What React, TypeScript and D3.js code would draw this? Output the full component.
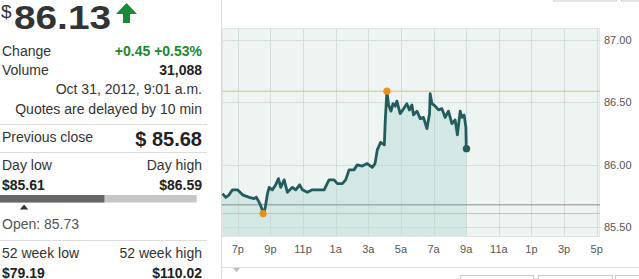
import React from "react";
import * as d3 from "d3";

// ---- data ----
// hours since Oct 30, 2012 00:00 (local), price in $
const hours = [18.06, 18.26, 18.47, 18.67, 18.98, 19.29, 19.7, 20.0, 20.14, 20.31, 20.47, 20.55, 20.67, 20.82, 20.92, 21.12, 21.32, 21.49, 21.63, 21.84, 22.04, 22.35, 22.55, 22.79, 22.96, 23.26, 23.57, 23.98, 24.29, 24.59, 24.9, 25.1, 25.41, 25.61, 25.82, 26.12, 26.32, 26.63, 26.93, 27.24, 27.41, 27.55, 27.75, 27.98, 28.04, 28.14, 28.24, 28.39, 28.51, 28.65, 28.75, 28.95, 29.16, 29.36, 29.52, 29.67, 29.77, 29.98, 30.18, 30.38, 30.59, 30.75, 30.79, 30.9, 31.1, 31.3, 31.51, 31.71, 31.91, 32.12, 32.32, 32.46, 32.63, 32.73, 32.87, 32.98, 33.0, 33.017];
const prices = [85.77, 85.74, 85.76, 85.8, 85.8, 85.76, 85.74, 85.73, 85.74, 85.7, 85.65, 85.61, 85.65, 85.77, 85.82, 85.8, 85.84, 85.89, 85.82, 85.88, 85.78, 85.82, 85.8, 85.84, 85.8, 85.78, 85.8, 85.8, 85.8, 85.88, 85.88, 85.85, 85.85, 85.88, 85.96, 85.96, 86.0, 85.99, 86.01, 85.98, 86.01, 86.12, 86.18, 86.16, 86.36, 86.59, 86.48, 86.43, 86.49, 86.47, 86.51, 86.41, 86.45, 86.49, 86.44, 86.48, 86.4, 86.43, 86.37, 86.38, 86.29, 86.41, 86.57, 86.49, 86.47, 86.44, 86.45, 86.38, 86.43, 86.33, 86.36, 86.24, 86.43, 86.38, 86.4, 86.3, 86.16, 86.13];

const xTickHours = [19, 21, 23, 25, 27, 29, 31, 33, 35, 37, 39, 41];
const xTickLabels = ["7p", "9p", "11p", "1a", "3a", "5a", "7a", "9a", "11a", "1p", "3p", "5p"];
const yTickValues = [85.5, 86.0, 86.5, 87.0];
const yTickLabels = ["85.50", "86.00", "86.50", "87.00"];

const dayLow = 85.61;
const dayHigh = 86.59;
const prevClose = 85.68;
const openPrice = 85.73;
const lastPrice = 86.13;

const statRows = [
  { label: "Change", value: "+0.45 +0.53%", green: true },
  { label: "Volume", value: "31,088", green: false },
];

const FONT = "'Liberation Sans', Arial, sans-serif";

export default function App() {
  const L = 222, R = 600, T = 28, B = 237;
  const x = d3.scaleLinear().domain([18.03, 41.2]).range([L, R]);
  const y = d3.scaleLinear().domain([85.5, 87.0]).range([227.3, 40]);
  const pts = hours.map((h, i) => [h, prices[i]] as [number, number]);
  const line = d3.line<[number, number]>().x(d => x(d[0])).y(d => y(d[1]));
  const area = d3.area<[number, number]>().x(d => x(d[0])).y0(B).y1(d => y(d[1]));

  const lowIdx = prices.indexOf(d3.min(prices) as number);
  const highIdx = prices.indexOf(d3.max(prices) as number);
  const last = pts[pts.length - 1];

  const bar = d3.scaleLinear().domain([dayLow, dayHigh]).range([0, 196.7]);

  const lab = { fontFamily: FONT, fontSize: 14, fill: "#333" } as const;

  return (
    <svg width={639} height={279} style={{ position: "absolute", left: 0, top: 0, background: "#fff" }}>
      {/* ---------- left panel ---------- */}
      <text x={1} y={18} style={{ ...lab, fontSize: 19, fill: "#333" }}>$</text>
      <text x={14} y={29} textLength={97} lengthAdjust="spacingAndGlyphs"
        style={{ fontFamily: FONT, fontSize: 34, fontWeight: "bold", fill: "#333" }}>86.13</text>
      <path d="M126.5,3 L137,14 L130,14 L130,23 L123,23 L123,14 L116,14 Z" fill="#1a8a35" />

      {statRows.map((r, i) => (
        <g key={r.label}>
          <text x={2} y={56 + i * 19} style={lab}>{r.label}</text>
          <text x={202} y={56 + i * 19} textAnchor="end"
            style={{ ...lab, fontWeight: "bold", fill: r.green ? "#1b8a2e" : "#222" }}>{r.value}</text>
        </g>
      ))}
      <text x={202} y={94} textAnchor="end" style={lab}>Oct 31, 2012, 9:01 a.m.</text>
      <text x={202} y={114} textAnchor="end" style={lab}>Quotes are delayed by 10 min</text>
      <line x1={0} x2={207} y1={124.5} y2={124.5} stroke="#ddd" />
      <text x={2} y={142} style={lab}>Previous close</text>
      <text x={202} y={146} textAnchor="end" style={{ ...lab, fontSize: 20, fontWeight: "bold", fill: "#222" }}>$ 85.68</text>
      <line x1={0} x2={207} y1={152.5} y2={152.5} stroke="#ddd" />
      <text x={2} y={170} style={lab}>Day low</text>
      <text x={202} y={170} textAnchor="end" style={lab}>Day high</text>
      <text x={2} y={190} style={{ ...lab, fontWeight: "bold", fill: "#222" }}>${dayLow.toFixed(2)}</text>
      <text x={202} y={190} textAnchor="end" style={{ ...lab, fontWeight: "bold", fill: "#222" }}>${dayHigh.toFixed(2)}</text>
      <rect x={0} y={195} width={bar(dayHigh)} height={7.5} fill="#c6c6c6" />
      <rect x={0} y={195} width={bar(lastPrice)} height={7.5} fill="#666" />
      <path d={`M${bar(openPrice)},204.5 L${bar(openPrice) + 4.2},209.5 L${bar(openPrice) - 4.2},209.5 Z`} fill="#333" />
      <text x={2} y={229} style={{ ...lab, fill: "#555" }}>Open: {openPrice.toFixed(2)}</text>
      <line x1={0} x2={207} y1={240.5} y2={240.5} stroke="#ddd" />
      <text x={2} y={258} style={lab}>52 week low</text>
      <text x={202} y={258} textAnchor="end" style={lab}>52 week high</text>
      <text x={2} y={278} style={{ ...lab, fontWeight: "bold", fill: "#222" }}>$79.19</text>
      <text x={202} y={278} textAnchor="end" style={{ ...lab, fontWeight: "bold", fill: "#222" }}>$110.02</text>

      {/* ---------- chart panel ---------- */}
      <line x1={221.5} x2={221.5} y1={0} y2={279} stroke="#dcdcdc" />
      <rect x={553.5} y={-4} width={63} height={5} fill="none" stroke="#ccc" />
      <rect x={621.5} y={-4} width={30} height={5} fill="none" stroke="#ccc" />
      <rect x={460.5} y={275.5} width={73} height={8} fill="none" stroke="#ccc" />
      <rect x={538.5} y={275.5} width={74} height={8} fill="none" stroke="#ccc" />
      <rect x={615.5} y={275.5} width={30} height={8} fill="none" stroke="#ccc" />

      <rect x={L} y={T} width={R - L} height={B - T} fill="#eef4f1" />
      <path d={area(pts) || ""} fill="#d3e8e5" />
      {xTickHours.map(h => (
        <line key={h} x1={Math.round(x(h)) + 0.5} x2={Math.round(x(h)) + 0.5} y1={T} y2={B} stroke="#c9d6d1" strokeOpacity={0.75} />
      ))}
      {yTickValues.map(v => (
        <line key={v} x1={L} x2={R} y1={Math.round(y(v)) + 0.5} y2={Math.round(y(v)) + 0.5} stroke="#c9d6d1" strokeOpacity={0.75} />
      ))}
      <rect x={L + 0.5} y={T + 0.5} width={R - L - 1} height={B - T - 1} fill="none" stroke="#dfe6e3" />

      <line x1={L} x2={R} y1={y(dayHigh)} y2={y(dayHigh)} stroke="#e6b88c" />
      <line x1={L} x2={R} y1={y(dayLow)} y2={y(dayLow)} stroke="#e6b88c" />
      <line x1={L} x2={R} y1={y(prevClose)} y2={y(prevClose)} stroke="#7f8f8c" />

      <path d={line(pts) || ""} fill="none" stroke="#235c5c" strokeWidth={2.8} strokeLinejoin="round" />
      <circle cx={x(pts[lowIdx][0])} cy={y(pts[lowIdx][1])} r={3.6} fill="#e8901a" />
      <circle cx={x(pts[highIdx][0])} cy={y(pts[highIdx][1])} r={3.6} fill="#e8901a" />
      <circle cx={x(last[0])} cy={y(last[1])} r={3.7} fill="#235c5c" />

      {yTickValues.map((v, i) => (
        <text key={v} x={604} y={y(v) + 4} style={{ fontFamily: FONT, fontSize: 11, fill: "#555" }}>{yTickLabels[i]}</text>
      ))}
      {xTickHours.map((h, i) => (
        <text key={h} x={x(h)} y={253} textAnchor="middle" style={{ fontFamily: FONT, fontSize: 11, fill: "#555" }}>{xTickLabels[i]}</text>
      ))}
      <line x1={222} x2={639} y1={267.5} y2={267.5} stroke="#e2e2e2" />
      <path d={`M233,268 L240,268 L236.5,272 Z`} fill="#bbb" />
    </svg>
  );
}
